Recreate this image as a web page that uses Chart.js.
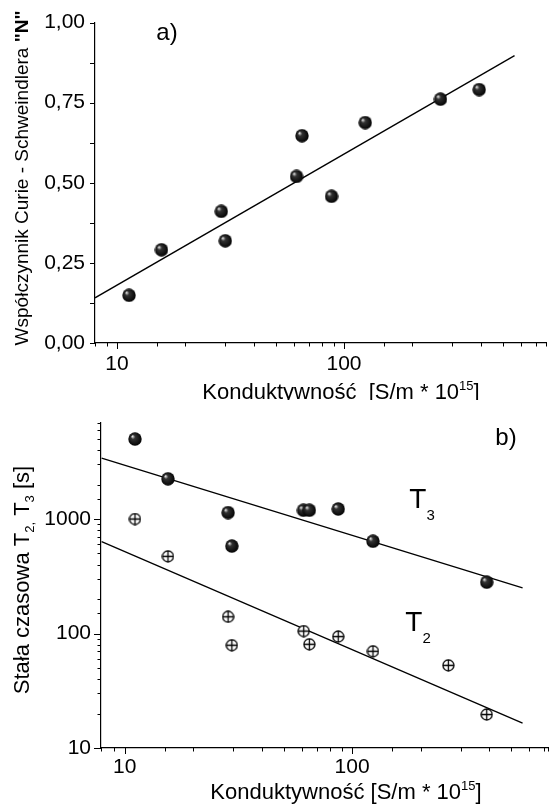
<!DOCTYPE html>
<html>
<head>
<meta charset="utf-8">
<script src="https://cdn.jsdelivr.net/npm/chart.js@4.4.1/dist/chart.umd.min.js"></script>
<style>
  html, body { margin: 0; padding: 0; background: #fff; }
  #page { position: relative; width: 555px; height: 807px; overflow: hidden; }
  canvas { position: absolute; left: 0; }
  #cA { top: 0; }
  #cB { top: 400px; }
</style>
</head>
<body>
<div id="page">
  <canvas id="cA" width="555" height="400"></canvas>
  <canvas id="cB" width="555" height="407"></canvas>
</div>
<script>
// --- dane ---
// a) współczynnik N vs konduktywność
const condA = [11.3, 15.7, 28.8, 30.0, 61.8, 65.3, 88.1, 124, 266, 394];
const curieN = [0.149, 0.291, 0.411, 0.319, 0.520, 0.647, 0.458, 0.688, 0.761, 0.791];
const fitNx = [8, 564];
const fitNy = [0.141, 0.897];

// b) stałe czasowe T2, T3
const condT3 = [11.1, 15.5, 28.5, 29.6, 61.1, 64.9, 86.9, 123.6, 391];
const t3 = [5000, 2245, 1138, 581, 1194, 1194, 1225, 640, 281];
const condT2 = [11.1, 15.5, 28.5, 29.6, 61.3, 64.9, 86.9, 123.6, 265, 391];
const t2 = [1000, 472, 140, 79, 105, 80.5, 94, 70, 52.7, 19.6];
const fitTx = [7.92, 562];
const fitT3y = [3400, 251];
const fitT2y = [634, 16.5];

const xLabels = [10, 100];
const yLabelsB = [10, 100, 1000];

const FONT = '"Liberation Sans", Arial, sans-serif';
Chart.defaults.font.family = FONT;
Chart.defaults.color = '#000';

// --- markery ---
function makeBall(d) {
  const c = document.createElement('canvas');
  c.width = c.height = d;
  const g = c.getContext('2d');
  const r = d / 2;
  const grad = g.createRadialGradient(r * 0.62, r * 0.6, 0.3, r, r, r);
  grad.addColorStop(0, '#e8e8e8');
  grad.addColorStop(0.28, '#333');
  grad.addColorStop(1, '#000');
  g.fillStyle = grad;
  g.beginPath();
  g.arc(r, r, r - 0.3, 0, Math.PI * 2);
  g.fill();
  return c;
}

function makeCrossCircle(d) {
  const c = document.createElement('canvas');
  c.width = c.height = d;
  const g = c.getContext('2d');
  const r = d / 2;
  g.fillStyle = '#fff';
  g.strokeStyle = '#000';
  g.lineWidth = 1.3;
  g.beginPath();
  g.arc(r, r, r - 1, 0, Math.PI * 2);
  g.fill();
  g.stroke();
  g.beginPath();
  g.moveTo(1, r); g.lineTo(d - 1, r);
  g.moveTo(r, 1); g.lineTo(r, d - 1);
  g.stroke();
  return c;
}

const ball = makeBall(14);
const crossCircle = makeCrossCircle(13);

const pts = (xs, ys) => xs.map((x, i) => ({ x: x, y: ys[i] }));

// --- tekst z indeksami ---
function richText(ctx, parts, x, y) {
  let w = 0;
  parts.forEach(p => {
    ctx.font = (p.bold ? 'bold ' : '') + p.size + 'px ' + FONT;
    p.w = ctx.measureText(p.t).width;
    w += p.w;
  });
  let cx = x - w / 2;
  ctx.textAlign = 'left';
  ctx.textBaseline = 'alphabetic';
  parts.forEach(p => {
    ctx.font = (p.bold ? 'bold ' : '') + p.size + 'px ' + FONT;
    ctx.fillText(p.t, cx, y + (p.dy || 0));
    cx += p.w;
  });
}

// kreski podziałki rysowane ręcznie (główne dłuższe)
function tickMarks(majorX, minorX, majorY, minorY) {
  return {
    id: 'tickMarks',
    afterDraw(chart) {
      const ctx = chart.ctx;
      const xs = chart.scales.x, ys = chart.scales.y;
      ctx.save();
      ctx.strokeStyle = '#000';
      ctx.lineWidth = 1;
      xs.ticks.forEach(t => {
        const px = Math.round(xs.getPixelForValue(t.value)) + 0.5;
        const len = t.label ? majorX : minorX;
        ctx.beginPath();
        ctx.moveTo(px, xs.top);
        ctx.lineTo(px, xs.top + len);
        ctx.stroke();
      });
      ys.ticks.forEach(t => {
        const py = Math.round(ys.getPixelForValue(t.value)) + 0.5;
        const len = t.label ? majorY : minorY;
        ctx.beginPath();
        ctx.moveTo(ys.right, py);
        ctx.lineTo(ys.right - len, py);
        ctx.stroke();
      });
      ctx.restore();
    }
  };
}

const titlesA = {
  id: 'titlesA',
  afterDraw(chart) {
    const ctx = chart.ctx;
    ctx.save();
    ctx.fillStyle = '#000';
    richText(ctx, [
      { t: 'Konduktywność  [S/m * 10', size: 22 },
      { t: '15', size: 13, dy: -9 },
      { t: ']', size: 22 }
    ], 341, 399);
    richText(ctx, [{ t: 'a)', size: 24 }], 167, 40);
    ctx.translate(28, 178);
    ctx.rotate(-Math.PI / 2);
    richText(ctx, [
      { t: 'Współczynnik Curie - Schweindlera ', size: 19 },
      { t: '"N"', size: 19, bold: true }
    ], 0, 0);
    ctx.restore();
  }
};

const titlesB = {
  id: 'titlesB',
  afterDraw(chart) {
    const ctx = chart.ctx;
    ctx.save();
    ctx.fillStyle = '#000';
    richText(ctx, [
      { t: 'Konduktywność [S/m * 10', size: 22 },
      { t: '15', size: 13, dy: -9 },
      { t: ']', size: 22 }
    ], 346, 399);
    richText(ctx, [{ t: 'b)', size: 24 }], 506, 45);
    richText(ctx, [
      { t: 'T', size: 28 },
      { t: '3', size: 15, dy: 12 }
    ], 422, 108);
    richText(ctx, [
      { t: 'T', size: 28 },
      { t: '2', size: 15, dy: 12 }
    ], 418, 231);
    ctx.translate(29, 180);
    ctx.rotate(-Math.PI / 2);
    richText(ctx, [
      { t: 'Stała czasowa T', size: 22 },
      { t: '2,', size: 13, dy: 5 },
      { t: ' T', size: 22 },
      { t: '3', size: 13, dy: 5 },
      { t: ' [s]', size: 22 }
    ], 0, 0);
    ctx.restore();
  }
};

const axisCommon = {
  grid: { display: true, drawOnChartArea: false, drawTicks: false, color: '#000' },
  border: { display: true, color: '#000', width: 1.2 }
};

// --- wykres a) ---
new Chart(document.getElementById('cA'), {
  type: 'scatter',
  data: {
    datasets: [
      {
        data: pts(condA, curieN),
        pointStyle: ball,
        pointRadius: 7
      },
      {
        type: 'line',
        data: pts(fitNx, fitNy),
        borderColor: '#000',
        borderWidth: 1.3,
        pointRadius: 0
      }
    ]
  },
  options: {
    responsive: false,
    animation: false,
    devicePixelRatio: 1,
    layout: { padding: { top: 19, right: 0, left: 0, bottom: 0 }, autoPadding: false },
    plugins: { legend: { display: false }, tooltip: { enabled: false } },
    scales: {
      x: {
        type: 'logarithmic',
        min: 8,
        max: 776,
        ...axisCommon,
        ticks: {
          autoSkip: false,
          maxRotation: 0,
          padding: 9,
          font: { size: 21 },
          callback: v => xLabels.includes(Math.round(v * 1000) / 1000) ? String(v) : ''
        },
        afterFit: s => { s.height = 57; }
      },
      y: {
        type: 'linear',
        min: 0,
        max: 1,
        ...axisCommon,
        ticks: {
          stepSize: 0.125,
          autoSkip: false,
          padding: 10,
          font: { size: 21 },
          callback: v => Math.abs(v * 4 - Math.round(v * 4)) < 1e-6 ? v.toFixed(2).replace('.', ',') : ''
        },
        afterFit: s => { s.width = 95; }
      }
    }
  },
  plugins: [tickMarks(6, 3.5, 5, 5), titlesA]
});

// --- wykres b) ---
new Chart(document.getElementById('cB'), {
  type: 'scatter',
  data: {
    datasets: [
      {
        data: pts(condT3, t3),
        pointStyle: ball,
        pointRadius: 7
      },
      {
        data: pts(condT2, t2),
        pointStyle: crossCircle,
        pointRadius: 6
      },
      {
        type: 'line',
        data: pts(fitTx, fitT3y),
        borderColor: '#000',
        borderWidth: 1.3,
        pointRadius: 0
      },
      {
        type: 'line',
        data: pts(fitTx, fitT2y),
        borderColor: '#000',
        borderWidth: 1.3,
        pointRadius: 0
      }
    ]
  },
  options: {
    responsive: false,
    animation: false,
    devicePixelRatio: 1,
    layout: { padding: { top: 23, right: 0, left: 0, bottom: 0 }, autoPadding: false },
    plugins: { legend: { display: false }, tooltip: { enabled: false } },
    scales: {
      x: {
        type: 'logarithmic',
        min: 7.87,
        max: 727,
        ...axisCommon,
        ticks: {
          autoSkip: false,
          maxRotation: 0,
          padding: 7,
          font: { size: 21 },
          callback: v => xLabels.includes(Math.round(v * 1000) / 1000) ? String(v) : ''
        },
        afterFit: s => { s.height = 59; }
      },
      y: {
        type: 'logarithmic',
        min: 10,
        max: 6900,
        ...axisCommon,
        ticks: {
          autoSkip: false,
          padding: 10,
          font: { size: 21 },
          callback: v => yLabelsB.includes(Math.round(v * 1000) / 1000) ? String(v) : ''
        },
        afterFit: s => { s.width = 101; }
      }
    }
  },
  plugins: [tickMarks(6, 3.5, 7, 3.5), titlesB]
});
</script>
</body>
</html>
